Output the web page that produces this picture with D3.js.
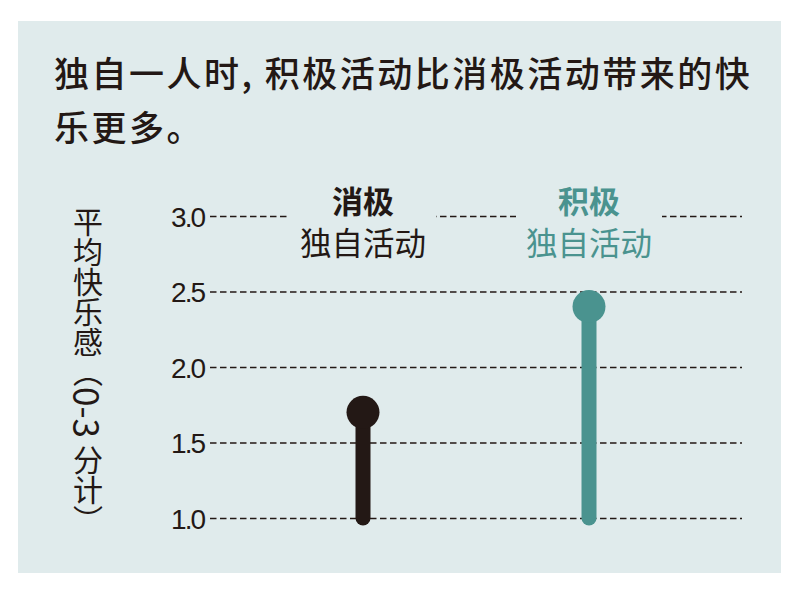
<!DOCTYPE html>
<html>
<head>
<meta charset="utf-8">
<script src="https://cdn.jsdelivr.net/npm/d3@7"></script>
<style>
  body { margin: 0; background: #fff; }
  svg { display: block; }
</style>
</head>
<body>
<div id="chart"></div>
<script>
'use strict';

var titleLines = ['独自一人时, 积极活动比消极活动带来的快', '乐更多。'];
var categories = ['消极', '积极'];
var subLabels = ['独自活动', '独自活动'];
var values = [1.7, 2.4];
var colors = ['#231815', '#4a938f'];
var yTicks = [1.0, 1.5, 2.0, 2.5, 3.0];
var yTitleParts = ['平均快乐感（', '0-3', ' 分计）'];

var W = 803, H = 589;
var bg = '#e0ebec';

var svg = d3.select('#chart')
    .append('svg')
    .attr('width', W)
    .attr('height', H);

svg.append('rect')
    .attr('x', 18).attr('y', 21)
    .attr('width', 763).attr('height', 552)
    .attr('fill', bg);

// title
svg.append('g').selectAll('text')
    .data(titleLines)
    .enter().append('text')
    .attr('x', 54)
    .attr('y', function(d, i) { return 87 + i * 54; })
    .attr('font-family', '"Noto Sans CJK SC", sans-serif')
    .attr('font-weight', 500)
    .attr('font-size', 35)
    .attr('letter-spacing', 2.5)
    .attr('fill', '#231815')
    .text(function(d) { return d; });

var y = d3.scaleLinear().domain([1, 3]).range([518, 216]);
var x = d3.scalePoint().domain(categories).range([210, 742]).padding(0.677);

// grid lines + tick labels through an axis
var axis = d3.axisLeft(y)
    .tickValues(yTicks)
    .tickFormat(d3.format('.1f'))
    .tickSize(-532)
    .tickPadding(6);

var gAxis = svg.append('g')
    .attr('transform', 'translate(210,0)')
    .call(axis);
gAxis.select('.domain').remove();
gAxis.selectAll('.tick line')
    .attr('stroke', '#231815')
    .attr('stroke-width', 1.4)
    .attr('stroke-dasharray', '6.5,3.5');
gAxis.selectAll('.tick text')
    .attr('font-family', '"Liberation Sans", Arial, sans-serif')
    .attr('font-size', 28)
    .attr('letter-spacing', -2)
    .attr('fill', '#231815')
    .attr('dy', '0.36em');

// cut the top grid line where the labels sit
svg.append('g').selectAll('rect')
    .data(categories)
    .enter().append('rect')
    .attr('x', function(d) { return x(d) - 73; })
    .attr('y', y(3) - 6)
    .attr('width', 146)
    .attr('height', 12)
    .attr('fill', bg);

// labels
var labels = svg.append('g').selectAll('g')
    .data(categories)
    .enter().append('g');

labels.append('text')
    .attr('x', function(d) { return x(d); })
    .attr('y', 213)
    .attr('text-anchor', 'middle')
    .attr('font-family', '"Noto Sans CJK SC", sans-serif')
    .attr('font-weight', 700)
    .attr('font-size', 31)
    .attr('fill', function(d, i) { return colors[i]; })
    .text(function(d) { return d; });

labels.append('text')
    .attr('x', function(d) { return x(d); })
    .attr('y', 255)
    .attr('text-anchor', 'middle')
    .attr('font-family', '"Noto Sans CJK SC", sans-serif')
    .attr('font-weight', 400)
    .attr('font-size', 31.5)
    .attr('fill', function(d, i) { return colors[i]; })
    .text(function(d, i) { return subLabels[i]; });

// lollipops
var pops = svg.append('g').selectAll('g')
    .data(values)
    .enter().append('g');

pops.append('line')
    .attr('x1', function(d, i) { return x(categories[i]); })
    .attr('x2', function(d, i) { return x(categories[i]); })
    .attr('y1', y(1))
    .attr('y2', function(d) { return y(d); })
    .attr('stroke', function(d, i) { return colors[i]; })
    .attr('stroke-width', 15)
    .attr('stroke-linecap', 'round');

pops.append('circle')
    .attr('cx', function(d, i) { return x(categories[i]); })
    .attr('cy', function(d) { return y(d); })
    .attr('r', 16.5)
    .attr('fill', function(d, i) { return colors[i]; });

// vertical y title
var yTitle = svg.append('text')
    .attr('x', 88)
    .attr('y', 207)
    .style('writing-mode', 'vertical-rl')
    .attr('font-family', '"Noto Sans CJK SC", sans-serif')
    .attr('font-size', 30)
    .attr('fill', '#231815');
yTitle.selectAll('tspan')
    .data(yTitleParts)
    .enter().append('tspan')
    .attr('font-size', function(d, i) { return i === 1 ? 35 : 30; })
    .text(function(d) { return d; });
</script>
</body>
</html>
